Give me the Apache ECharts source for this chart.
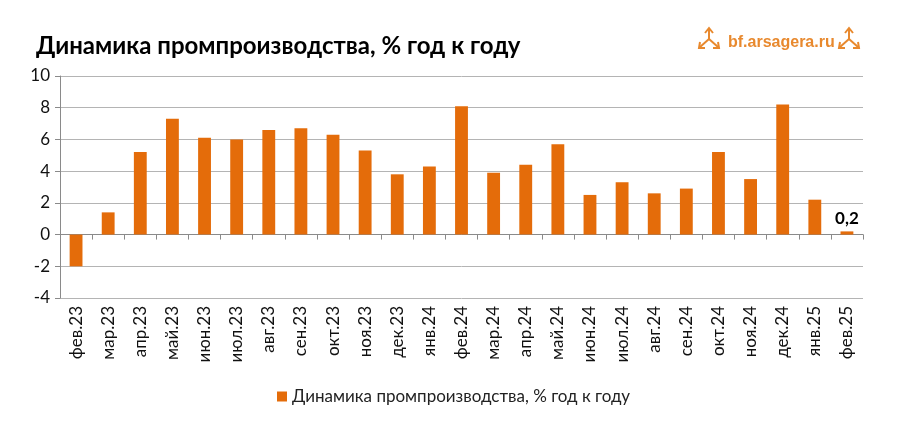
<!DOCTYPE html>
<html>
<head>
<meta charset="utf-8">
<script src="https://cdn.jsdelivr.net/npm/echarts@6/dist/echarts.min.js"></script>
<style>
  html, body { margin: 0; padding: 0; background: #fff; }
  #chart { width: 921px; height: 424px; }
</style>
</head>
<body>
<div id="chart"></div>
<script>
// months, feb 2023 .. feb 2025
var months = ["фев.23","мар.23","апр.23","май.23","июн.23","июл.23","авг.23","сен.23","окт.23","ноя.23","дек.23","янв.24",
              "фев.24","мар.24","апр.24","май.24","июн.24","июл.24","авг.24","сен.24","окт.24","ноя.24","дек.24","янв.25","фев.25"];
var prodValues = [-2.0, 1.4, 5.2, 7.3, 6.1, 6.0, 6.6, 6.7, 6.3, 5.3, 3.8, 4.3,
                  8.1, 3.9, 4.4, 5.7, 2.5, 3.3, 2.6, 2.9, 5.2, 3.5, 8.2, 2.2, 0.2];
var seriesName = 'Динамика промпроизводства, % год к году';

var barColor = '#E46C0A';
var logoColor = '#E8892E';
var fontFam = 'Lato, "Open Sans", sans-serif';

// only the last bar gets a value label
var barData = prodValues.map(function (v, i) {
    if (i === prodValues.length - 1) {
        return {
            value: v,
            label: {
                show: true,
                position: 'top',
                distance: 4,
                formatter: function (p) { return String(p.value).replace('.', ','); },
                fontWeight: 'bold',
                fontSize: 17,
                color: '#000',
                fontFamily: fontFam
            }
        };
    }
    return v;
});

// little arrows logo (decoration only)
function logoIcon(cx, cy) {
    var ls = { stroke: logoColor, lineWidth: 2, fill: null };
    return {
        type: 'group',
        children: [
            { type: 'polyline', shape: { points: [[cx, cy], [cx, cy - 10]] }, style: ls },
            { type: 'polyline', shape: { points: [[cx - 4, cy - 6], [cx, cy - 11], [cx + 4, cy - 6]] }, style: ls },
            { type: 'polyline', shape: { points: [[cx, cy], [cx - 9, cy + 8]] }, style: ls },
            { type: 'polyline', shape: { points: [[cx - 9, cy + 3], [cx - 10, cy + 9], [cx - 4, cy + 9]] }, style: ls },
            { type: 'polyline', shape: { points: [[cx, cy], [cx + 9, cy + 8]] }, style: ls },
            { type: 'polyline', shape: { points: [[cx + 9, cy + 3], [cx + 10, cy + 9], [cx + 4, cy + 9]] }, style: ls }
        ]
    };
}

var chart = echarts.init(document.getElementById('chart'));

var option = {
    animation: false,
    title: [{
        text: seriesName,
        left: 31,
        top: 29,
        textStyle: { fontSize: 24, fontWeight: 'bold', color: '#000', fontFamily: fontFam }
    }, {
        text: 'bf.arsagera.ru',
        left: 723,
        top: 30,
        textStyle: { fontSize: 16, fontWeight: 'bold', color: logoColor, fontFamily: '"Liberation Sans", Arial, sans-serif' }
    }],
    graphic: [logoIcon(709, 39), logoIcon(849, 39)],
    legend: {
        bottom: 14,
        left: 272,
        itemWidth: 10,
        itemHeight: 10,
        icon: 'rect',
        itemGap: 4,
        textStyle: { fontSize: 17, color: '#222', fontFamily: fontFam },
        data: [seriesName]
    },
    grid: { left: 60, right: 58, top: 76, bottom: 126, containLabel: false },
    xAxis: [{
        type: 'category',
        data: months,
        position: 'bottom',
        axisLine: { show: false, onZero: false },
        axisTick: { show: false },
        axisLabel: {
            rotate: 90,
            interval: 0,
            margin: 8,
            fontSize: 17,
            color: '#111',
            fontFamily: fontFam
        }
    }, {
        type: 'category',
        data: months,
        position: 'bottom',
        axisLine: { show: true, onZero: true, lineStyle: { color: '#8a8a8a', width: 1 } },
        axisTick: { show: true, alignWithLabel: false, interval: 0, length: 5, lineStyle: { color: '#8a8a8a' } },
        axisLabel: { show: false }
    }],
    yAxis: {
        type: 'value',
        min: -4,
        max: 10,
        interval: 2,
        axisLine: { show: true, lineStyle: { color: '#8a8a8a' } },
        axisTick: { show: true, length: 5, lineStyle: { color: '#8a8a8a' } },
        axisLabel: { fontSize: 17, color: '#111', margin: 10, fontFamily: fontFam },
        splitLine: { lineStyle: { color: '#b4b4b4', width: 1 } }
    },
    series: [{
        name: seriesName,
        type: 'bar',
        xAxisIndex: 0,
        barWidth: '40%',
        itemStyle: { color: barColor },
        data: barData
    }]
};

chart.setOption(option);
</script>
</body>
</html>
